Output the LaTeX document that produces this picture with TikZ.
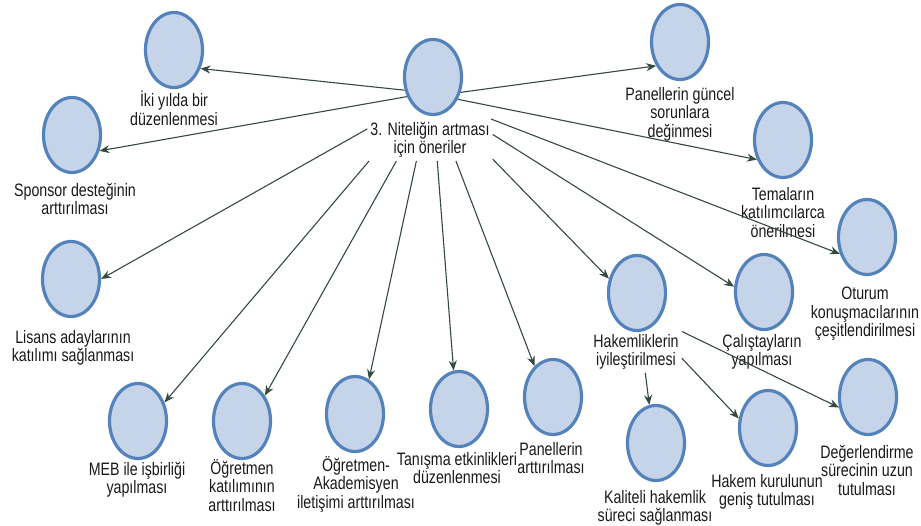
\documentclass[tikz,border=0pt]{standalone}
\usepackage{fontspec}
\newfontfamily\labfont{Liberation Sans}[FakeStretch=0.79]
\usetikzlibrary{shapes.geometric,arrows.meta}
\definecolor{cfill}{RGB}{198,212,234}
\definecolor{cline}{RGB}{84,130,186}
\definecolor{carrow}{RGB}{52,74,62}
\begin{document}
\begin{tikzpicture}[x=1pt,y=-1pt,
  vtx/.style={ellipse, draw=cline, fill=cfill, line width=3.2pt, minimum width=57pt, minimum height=75pt, inner sep=0pt},
  lab/.style={align=center, inner sep=0pt, anchor=north, font={\labfont\fontsize{18}{18.5}\selectfont}, text=black!90},
  srclab/.style={lab, inner sep=3pt},
  conn/.style={draw=carrow, line width=1.1pt, -{Stealth[length=10pt,width=8pt]}}
]
\useasboundingbox (0,0) rectangle (921,526);

% vertices
\node[vtx] (c)   at (433,77)  {};
\node[vtx] (iki) at (174,50)  {};
\node[vtx] (spon) at (72,135) {};
\node[vtx] (lis) at (71,279)  {};
\node[vtx] (meb) at (138,421) {};
\node[vtx] (ogr) at (242,421) {};
\node[vtx] (aka) at (355,414) {};
\node[vtx] (tan) at (459,409) {};
\node[vtx] (pan) at (553,397) {};
\node[vtx] (hak) at (637,293) {};
\node[vtx] (cal) at (764,292) {};
\node[vtx] (otu) at (867,237) {};
\node[vtx] (tem) at (783,140) {};
\node[vtx] (gun) at (680,42)  {};
\node[vtx] (kal) at (656,443) {};
\node[vtx] (kur) at (768,428) {};
\node[vtx] (deg) at (868,397) {};

% labels
\node[srclab] (cl) at (430,119) {3. Niteliğin artması\\için öneriler};
\node[lab] (ikil) at (174,91) {İki yılda bir\\düzenlenmesi};
\node[lab] (sponl) at (75,183) {Sponsor desteğinin\\arttırılması};
\node[lab] (lisl) at (73,330) {Lisans adaylarının\\katılımı sağlanması};
\node[lab] (mebl) at (137,462) {MEB ile işbirliği\\yapılması};
\node[lab] (ogrl) at (242,459) {Öğretmen\\katılımının\\arttırılması};
\node[lab] (akal) at (356,456) {Öğretmen-\\Akademisyen\\iletişimi arttırılması};
\node[lab] (tanl) at (457,452) {Tanışma etkinlikleri\\düzenlenmesi};
\node[lab] (panl) at (551,442) {Panellerin\\arttırılması};
\node[srclab] (hakl) at (636,331) {Hakemliklerin\\iyileştirilmesi};
\node[lab] (call) at (762,334) {Çalıştayların\\yapılması};
\node[lab] (otul) at (865,287) {Oturum\\konuşmacılarının\\çeşitlendirilmesi};
\node[lab] (teml) at (783,187) {Temaların\\katılımcılarca\\önerilmesi};
\node[lab] (gunl) at (680,87) {Panellerin güncel\\sorunlara\\değinmesi};
\node[lab] (kall) at (655,490) {Kaliteli hakemlik\\süreci sağlanması};
\node[lab] (kurl) at (767,474) {Hakem kurulunun\\geniş tutulması};
\node[lab] (degl) at (867,445) {Değerlendirme\\sürecinin uzun\\tutulması};

% connectors
\draw[conn] (c.205) -- (iki.-35);
\draw[conn] (c.217) -- (spon.-30);
\draw[conn] (c.331) -- (gun.225);
\draw[conn] (c.318) -- (tem.217);
\draw[conn] (cl.170) -- (lis.0);
\draw[conn] (cl.199) -- (meb.35);
\draw[conn] (cl.212) -- (ogr.48);
\draw[conn] (cl.237) -- (aka.68);
\draw[conn] (cl.289) -- (tan.98);
\draw[conn] (cl.321) -- (pan.121);
\draw[conn] (cl.343) -- (hak.153);
\draw[conn] (cl.5) -- (cal.170);
\draw[conn] (cl.19) -- (otu.212);
\draw[conn] (hakl.294) -- (kal.100);
\draw[conn] (hakl.352) -- (kur.162);
\draw[conn] (hakl.24) -- (deg.200);
\end{tikzpicture}
\end{document}
